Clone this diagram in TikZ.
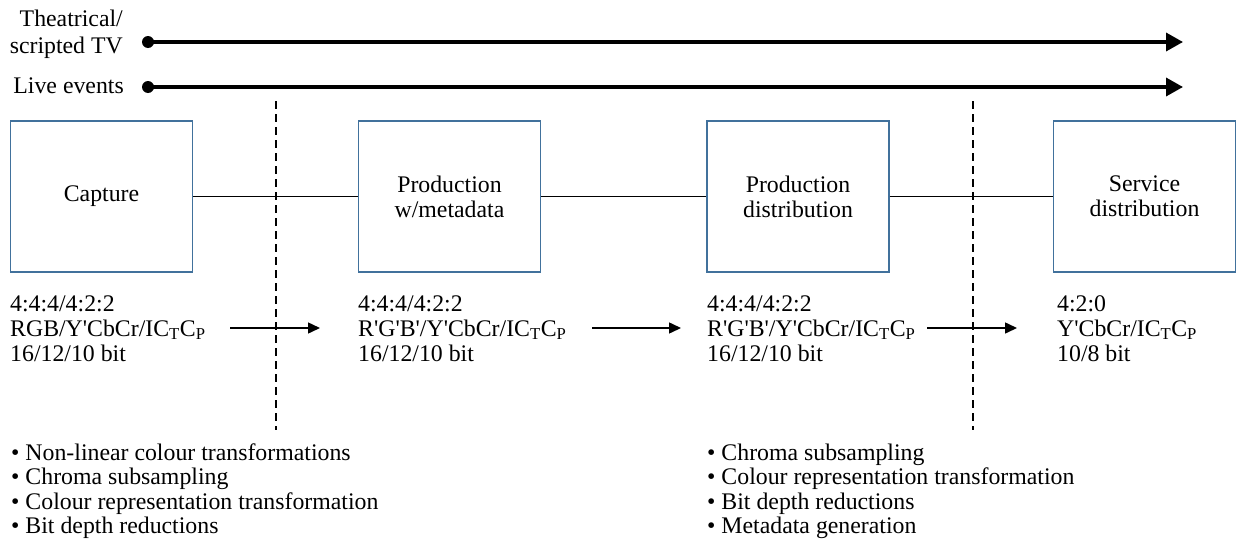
\documentclass[tikz,border=0pt]{standalone}
\usepackage{fontspec}
\setmainfont{Liberation Serif}[Ligatures=TeXOff]
\usetikzlibrary{arrows.meta}
\definecolor{boxblue}{HTML}{41719C}
\begin{document}
\begin{tikzpicture}[x=1pt,y=-1pt,
  every node/.style={font=\fontsize{23.8pt}{25pt}\selectfont, inner sep=0pt},
  stagebox/.style={draw=boxblue, line width=1.3pt, minimum width=182pt, minimum height=151pt, align=center},
  txt/.style={anchor=base west},
  lbl/.style={anchor=base east},
  track/.style={line width=3.5pt, -{Triangle[length=17pt,width=18pt]}},
  flow/.style={line width=1.5pt, -{Triangle[length=12pt,width=11pt]}},
  divider/.style={line width=1.2pt, dash pattern=on 8pt off 5pt},
  link/.style={line width=1.4pt}]
\useasboundingbox (0,0) rectangle (1236,546);
% timeline labels
\node[lbl] (t1) at (123,27) {Theatrical/};
\node[lbl] (t2) at (123,53) {scripted TV};
\node[lbl] (t3) at (124,93) {Live events};
\coordinate (d1) at (148,42);
\coordinate (e1) at (1183,42);
\coordinate (d2) at (148,87);
\coordinate (e2) at (1183,87);
\fill (d1) circle (6pt);
\fill (d2) circle (6pt);
\draw[track] (d1) -- (e1);
\draw[track] (d2) -- (e2);
% dashed dividers
\coordinate (v1a) at (276,101);
\coordinate (v1b) at (276,430);
\coordinate (v2a) at (973,101);
\coordinate (v2b) at (973,430);
\draw[divider] (v1a) -- (v1b);
\draw[divider] (v2a) -- (v2b);
% boxes
\node[stagebox] (cap) at (101.5,196.5) {Capture};
\node[stagebox] (prod) at (449.5,196.5) {Production\\w/metadata};
\node[stagebox] (pdist) at (798,196.5) {Production\\distribution};
\node[stagebox] (serv) at (1144.5,196.5) {Service\\distribution};
\draw[link] (cap) -- (prod);
\draw[link] (prod) -- (pdist);
\draw[link] (pdist) -- (serv);
% format texts
\node[txt] (a1) at (10,311) {4:4:4/4:2:2};
\node[txt] (a2) at (10,336) {RGB/Y'CbCr/IC\textsubscript{T}C\textsubscript{P}};
\node[txt] (a3) at (10,361) {16/12/10 bit};
\node[txt] (b1) at (358,311) {4:4:4/4:2:2};
\node[txt] (b2) at (358,336) {R'G'B'/Y'CbCr/IC\textsubscript{T}C\textsubscript{P}};
\node[txt] (b3) at (358,361) {16/12/10 bit};
\node[txt] (c1) at (707,311) {4:4:4/4:2:2};
\node[txt] (c2) at (707,336) {R'G'B'/Y'CbCr/IC\textsubscript{T}C\textsubscript{P}};
\node[txt] (c3) at (707,361) {16/12/10 bit};
\node[txt] (s1) at (1057,311) {4:2:0};
\node[txt] (s2) at (1057,336) {Y'CbCr/IC\textsubscript{T}C\textsubscript{P}};
\node[txt] (s3) at (1057,361) {10/8 bit};
% flow arrows
\coordinate (f1a) at (230,328);
\coordinate (f1b) at (320,328);
\coordinate (f2a) at (592,328);
\coordinate (f2b) at (681,328);
\coordinate (f3a) at (927,328);
\coordinate (f3b) at (1017,328);
\draw[flow] (f1a) -- (f1b);
\draw[flow] (f2a) -- (f2b);
\draw[flow] (f3a) -- (f3b);
% bullet lists
\node[txt] (l1) at (11,460) {• Non-linear colour transformations};
\node[txt] (l2) at (11,484.5) {• Chroma subsampling};
\node[txt] (l3) at (11,509) {• Colour representation transformation};
\node[txt] (l4) at (11,533.5) {• Bit depth reductions};
\node[txt] (r1) at (707,460) {• Chroma subsampling};
\node[txt] (r2) at (707,484.5) {• Colour representation transformation};
\node[txt] (r3) at (707,509) {• Bit depth reductions};
\node[txt] (r4) at (707,533.5) {• Metadata generation};
\end{tikzpicture}
\end{document}
